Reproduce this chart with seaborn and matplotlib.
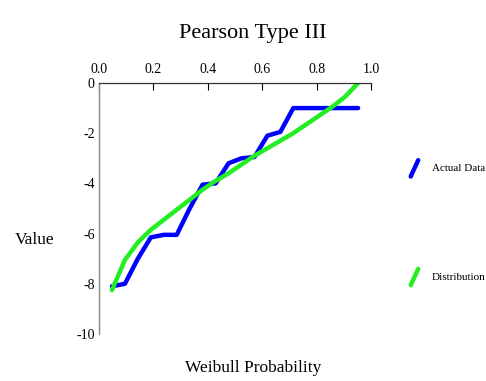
"""
Pearson Type III fit vs. actual data, plotted against Weibull plotting positions
"""

import numpy as np
import pandas as pd
import matplotlib
matplotlib.use('Agg')
import matplotlib.pyplot as plt
from matplotlib.lines import Line2D
from matplotlib.legend_handler import HandlerLine2D
import seaborn as sns

sns.set_style("white")
plt.rcParams['font.family'] = ['Liberation Serif', 'DejaVu Serif']
plt.rcParams['axes.unicode_minus'] = False
plt.rcParams['text.color'] = 'black'
plt.rcParams['xtick.color'] = 'black'
plt.rcParams['ytick.color'] = 'black'

# ─────────────────────────────────────────────
# DATA (20 ranked values, Weibull position i/(n+1))
# ─────────────────────────────────────────────
rank = list(range(1, 21))
actual_vals = [-8.1, -8.0, -7.0, -6.15, -6.05, -6.05, -5.0, -4.05, -4.0, -3.2,
               -3.0, -2.95, -2.1, -1.95, -1.0, -1.0, -1.0, -1.0, -1.0, -1.0]
dist_vals = [-8.25, -7.05, -6.35, -5.85, -5.45, -5.05, -4.65, -4.25, -3.9, -3.6,
             -3.25, -2.9, -2.6, -2.3, -2.0, -1.65, -1.3, -0.95, -0.55, 0.0]
x_ticks = [0.0, 0.2, 0.4, 0.6, 0.8, 1.0]
y_ticks = [0, -2, -4, -6, -8, -10]

n = len(rank)
df = pd.DataFrame({
    'prob': [r / (n + 1) for r in rank],
    'actual': actual_vals,
    'dist': dist_vals,
})

BLUE = "#0000FF"
GREEN = "#22EE22"


class SlantHandler(HandlerLine2D):
    # draws the legend key as a short slanted stroke
    def create_artists(self, legend, orig_handle, xdescent, ydescent,
                       width, height, fontsize, trans):
        line = Line2D([width * 0.15, width * 0.6], [-height * 0.7, height * 1.4],
                      color=orig_handle.get_color(), lw=orig_handle.get_linewidth(),
                      solid_capstyle='round')
        line.set_transform(trans)
        return [line]


fig = plt.figure(figsize=(4.86, 3.81), dpi=100)
ax = fig.add_axes([0.2037, 0.1234, 0.5597, 0.6588])

sns.lineplot(data=df, x='prob', y='actual', ax=ax, color=BLUE, lw=3.2,
             label='Actual Data', solid_joinstyle='round')
sns.lineplot(data=df, x='prob', y='dist', ax=ax, color=GREEN, lw=3.2,
             label='Distribution', solid_joinstyle='round')

ax.set_xlim(0, 1)
ax.set_ylim(-10, 0)
ax.set_xticks(x_ticks)
ax.set_xticklabels([f"{t:.1f}" for t in x_ticks])
ax.set_yticks(y_ticks)
ax.set_yticklabels([str(t) for t in y_ticks])
ax.xaxis.tick_top()
ax.tick_params(axis='x', direction='in', length=5, width=0.8, labelsize=10, pad=5)
ax.tick_params(axis='y', direction='inout', length=4, width=0.8, labelsize=10, pad=1)
for s in ['right', 'bottom']:
    ax.spines[s].set_visible(False)
ax.spines['top'].set_color('#333333')
ax.spines['top'].set_linewidth(0.9)
ax.spines['left'].set_color('#888888')
ax.spines['left'].set_linewidth(1.0)

ax.set_xlabel("")
ax.set_ylabel("")
fig.text(0.521, 0.913, "Pearson Type III", ha='center', va='center', fontsize=16)
fig.text(0.072, 0.37, "Value", ha='center', va='center', fontsize=12.5)
fig.text(0.521, 0.034, "Weibull Probability", ha='center', va='center', fontsize=12.5)

handles, labels = ax.get_legend_handles_labels()
ax.legend(handles, labels, loc='upper left', bbox_to_anchor=(1.1, 0.72),
          frameon=False, fontsize=8, labelspacing=8.9, handlelength=1.5,
          handletextpad=0.6, handler_map={Line2D: SlantHandler()})

plt.savefig("out.png", dpi=100)
plt.close()
